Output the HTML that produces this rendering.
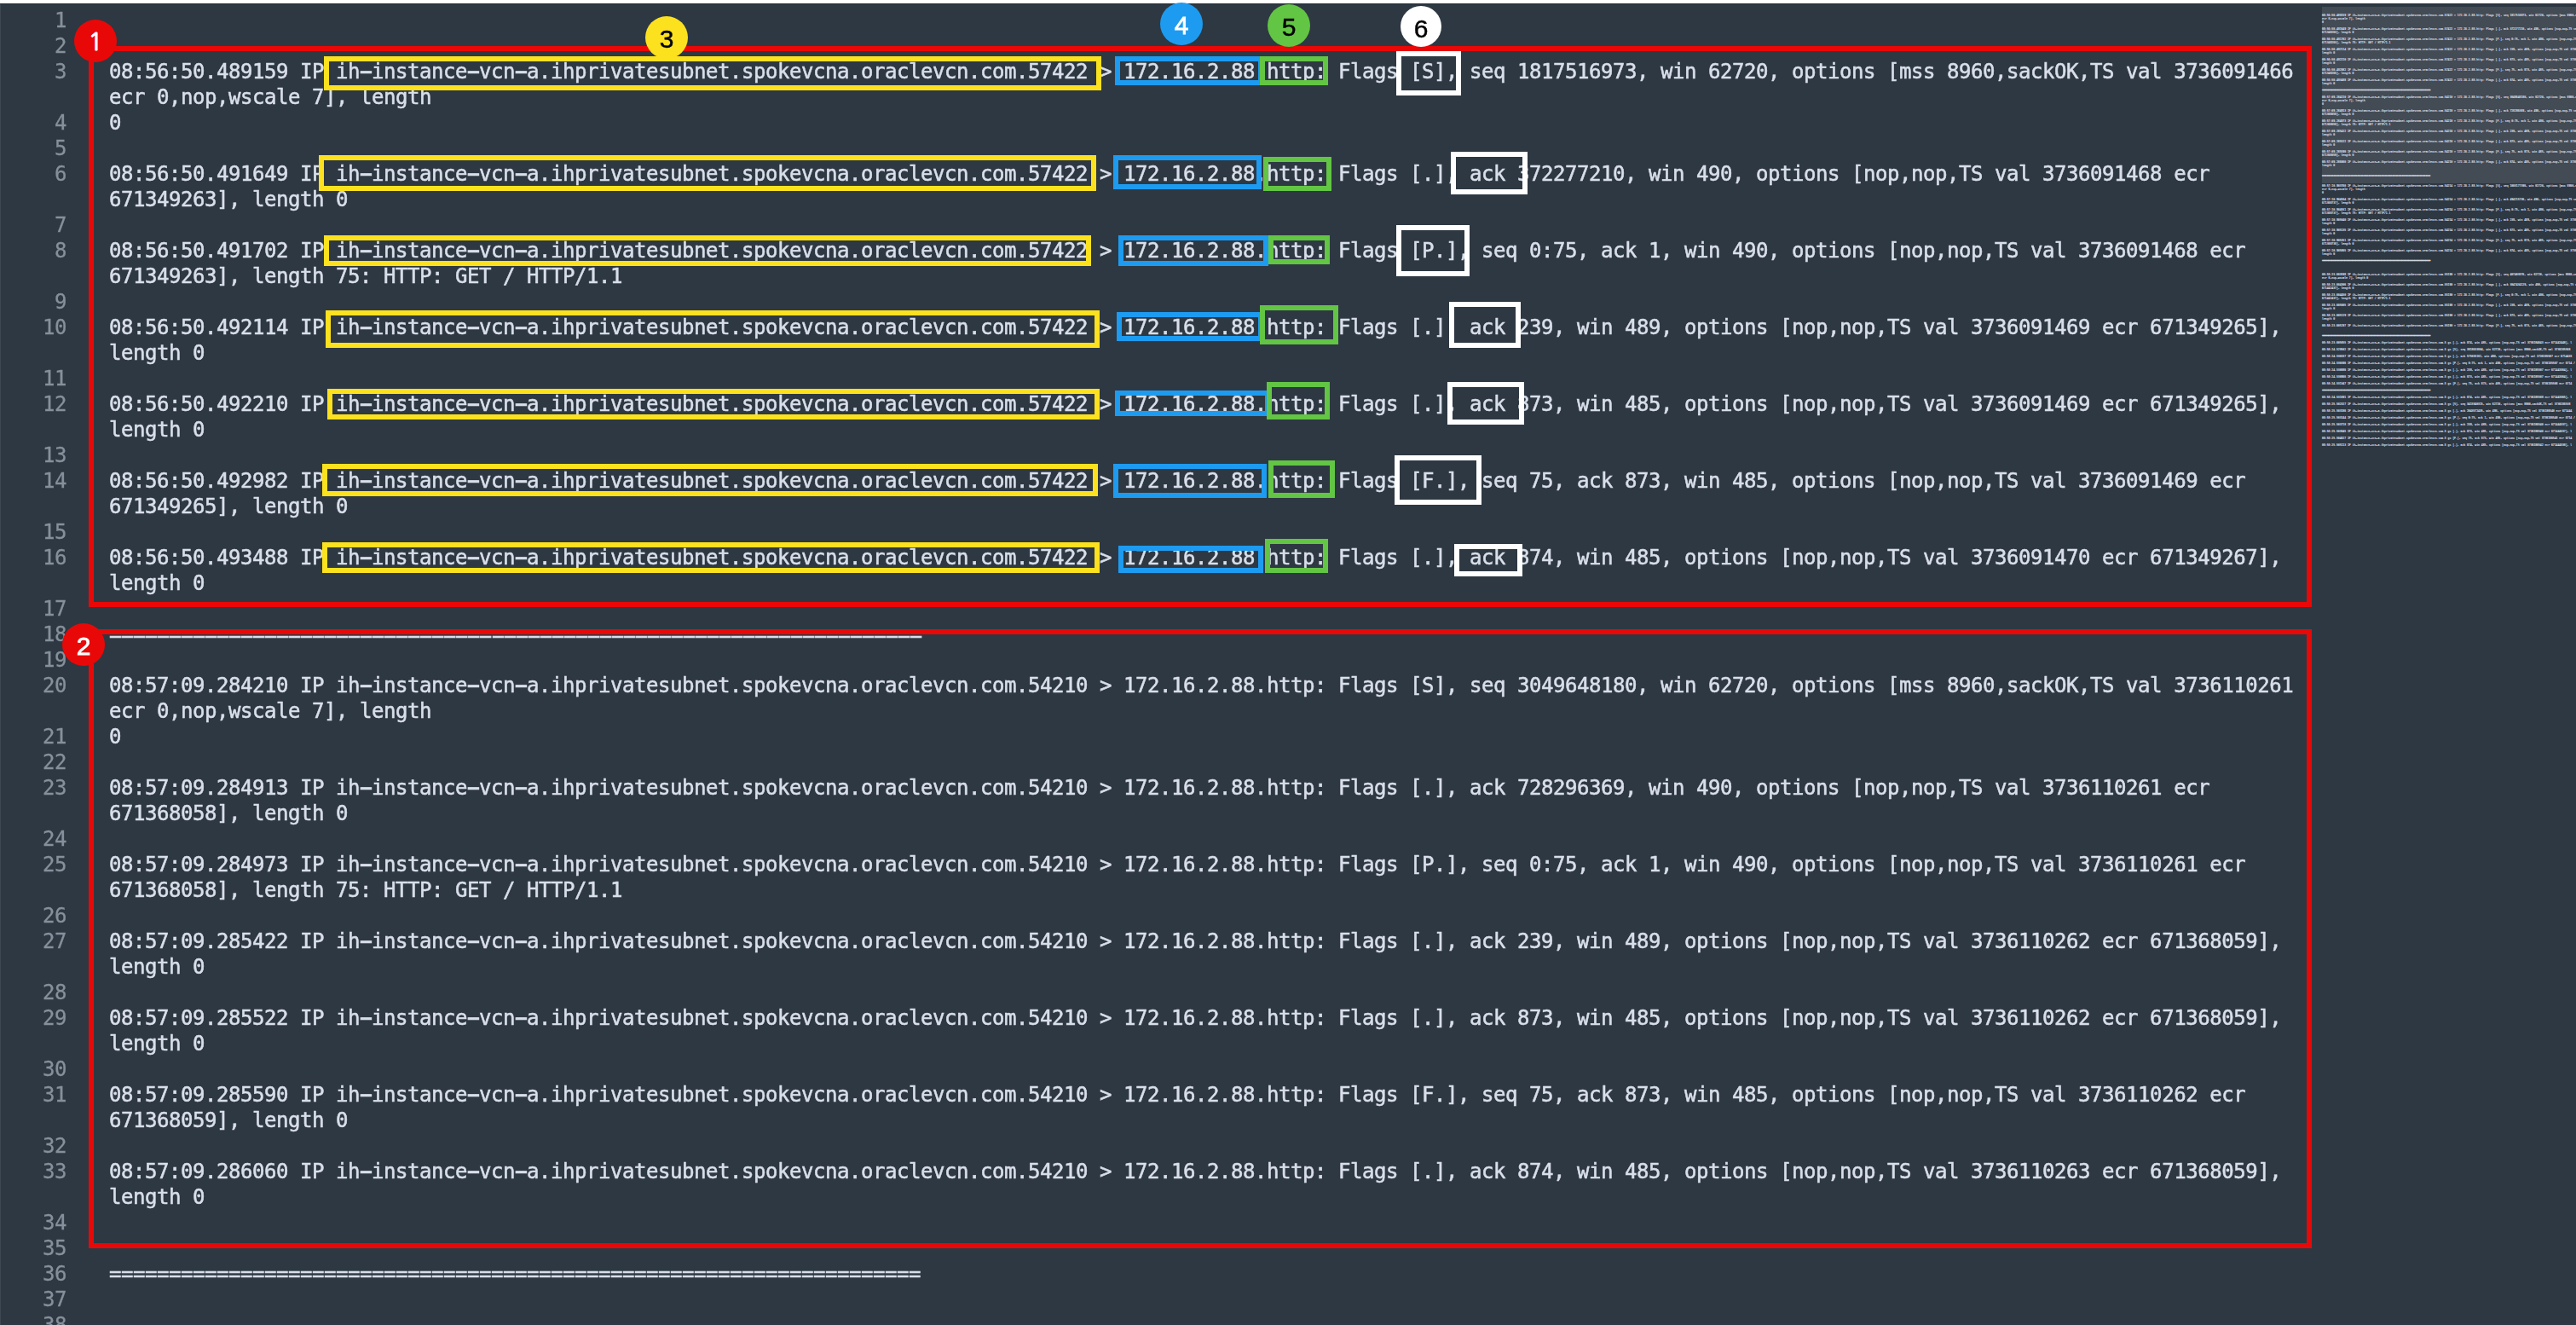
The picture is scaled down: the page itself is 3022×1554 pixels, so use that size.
<!DOCTYPE html>
<html lang="en">
<head>
<meta charset="utf-8">
<title>tcpdump capture</title>
<style>
html,body{margin:0;padding:0}
body{width:3022px;height:1554px;overflow:hidden;position:relative;background:#2e3842;
 font-family:"DejaVu Sans Mono","Liberation Mono",monospace;font-size:24px;letter-spacing:-0.449px;color:#d9dfea}
.top{position:absolute;left:0;top:0;width:3022px;height:4px;background:#fff}
.shade{position:absolute;left:0;top:4px;width:3022px;height:1px;background:#232c36}
.edge{position:absolute;left:0;top:5px;width:1px;height:1549px;background:#3e4853}
.gutter{will-change:transform;position:absolute;left:0;top:9px;width:78px;height:1546px}
.n{position:absolute;right:0;-webkit-text-stroke:0.3px #86909c;height:30px;line-height:30px;color:#86909c;white-space:pre}
.code{will-change:transform;position:absolute;left:128.25px;top:9px;width:2590px;height:1545px;overflow:hidden;-webkit-text-stroke:0.55px #d9dfea}
i{display:inline-block;font-style:normal;transform:translateY(-1.2px) scale(2.03,1.25)}
b{display:inline-block;font-weight:normal;transform:translateY(1.9px) scaleX(2.05)}
.r{position:absolute;left:0;height:30px;line-height:30px;white-space:pre}
.mini{position:absolute;left:2720px;top:8px;width:302px;height:1546px;overflow:hidden}
.view{position:absolute;left:4px;top:0;width:298px;height:207px;background:#434b55}
.mm{position:absolute;left:0;top:0;width:2600px;height:4000px;transform-origin:0 0;transform:translate(4.1px,0.2px) scale(0.13333);color:#d6dbe3;-webkit-text-stroke:1.2px #d6dbe3}
.mm b{transform:translateY(-8.5px) scale(2.3,3.2)}
.b{position:absolute;box-sizing:content-box}
.c{letter-spacing:0;position:absolute;border-radius:50%;text-align:center;font-family:"Liberation Sans",Arial,sans-serif;font-size:31px;-webkit-text-stroke:0.5px}
</style>
</head>
<body>
<div class="top"></div><div class="shade"></div><div class="edge"></div>
<div class="gutter">
<div class="n" style="top:0px">1</div>
<div class="n" style="top:30px">2</div>
<div class="n" style="top:60px">3</div>
<div class="n" style="top:120px">4</div>
<div class="n" style="top:150px">5</div>
<div class="n" style="top:180px">6</div>
<div class="n" style="top:240px">7</div>
<div class="n" style="top:270px">8</div>
<div class="n" style="top:330px">9</div>
<div class="n" style="top:360px">10</div>
<div class="n" style="top:420px">11</div>
<div class="n" style="top:450px">12</div>
<div class="n" style="top:510px">13</div>
<div class="n" style="top:540px">14</div>
<div class="n" style="top:600px">15</div>
<div class="n" style="top:630px">16</div>
<div class="n" style="top:690px">17</div>
<div class="n" style="top:720px">18</div>
<div class="n" style="top:750px">19</div>
<div class="n" style="top:780px">20</div>
<div class="n" style="top:840px">21</div>
<div class="n" style="top:870px">22</div>
<div class="n" style="top:900px">23</div>
<div class="n" style="top:960px">24</div>
<div class="n" style="top:990px">25</div>
<div class="n" style="top:1050px">26</div>
<div class="n" style="top:1080px">27</div>
<div class="n" style="top:1140px">28</div>
<div class="n" style="top:1170px">29</div>
<div class="n" style="top:1230px">30</div>
<div class="n" style="top:1260px">31</div>
<div class="n" style="top:1320px">32</div>
<div class="n" style="top:1350px">33</div>
<div class="n" style="top:1410px">34</div>
<div class="n" style="top:1440px">35</div>
<div class="n" style="top:1470px">36</div>
<div class="n" style="top:1500px">37</div>
<div class="n" style="top:1530px">38</div>
</div>
<div class="code">
<div class="r" style="top:60px">08:56:50.489159 IP ih<i>-</i>instance<i>-</i>vcn<i>-</i>a.ihprivatesubnet.spokevcna.oraclevcn.com.57422 &gt; 172.16.2.88.http: Flags [S], seq 1817516973, win 62720, options [mss 8960,sackOK,TS val 3736091466</div>
<div class="r" style="top:90px">ecr 0,nop,wscale 7], length</div>
<div class="r" style="top:120px">0</div>
<div class="r" style="top:180px">08:56:50.491649 IP ih<i>-</i>instance<i>-</i>vcn<i>-</i>a.ihprivatesubnet.spokevcna.oraclevcn.com.57422 &gt; 172.16.2.88.http: Flags [.], ack 372277210, win 490, options [nop,nop,TS val 3736091468 ecr</div>
<div class="r" style="top:210px">671349263], length 0</div>
<div class="r" style="top:270px">08:56:50.491702 IP ih<i>-</i>instance<i>-</i>vcn<i>-</i>a.ihprivatesubnet.spokevcna.oraclevcn.com.57422 &gt; 172.16.2.88.http: Flags [P.], seq 0:75, ack 1, win 490, options [nop,nop,TS val 3736091468 ecr</div>
<div class="r" style="top:300px">671349263], length 75: HTTP: GET / HTTP/1.1</div>
<div class="r" style="top:360px">08:56:50.492114 IP ih<i>-</i>instance<i>-</i>vcn<i>-</i>a.ihprivatesubnet.spokevcna.oraclevcn.com.57422 &gt; 172.16.2.88.http: Flags [.], ack 239, win 489, options [nop,nop,TS val 3736091469 ecr 671349265],</div>
<div class="r" style="top:390px">length 0</div>
<div class="r" style="top:450px">08:56:50.492210 IP ih<i>-</i>instance<i>-</i>vcn<i>-</i>a.ihprivatesubnet.spokevcna.oraclevcn.com.57422 &gt; 172.16.2.88.http: Flags [.], ack 873, win 485, options [nop,nop,TS val 3736091469 ecr 671349265],</div>
<div class="r" style="top:480px">length 0</div>
<div class="r" style="top:540px">08:56:50.492982 IP ih<i>-</i>instance<i>-</i>vcn<i>-</i>a.ihprivatesubnet.spokevcna.oraclevcn.com.57422 &gt; 172.16.2.88.http: Flags [F.], seq 75, ack 873, win 485, options [nop,nop,TS val 3736091469 ecr</div>
<div class="r" style="top:570px">671349265], length 0</div>
<div class="r" style="top:630px">08:56:50.493488 IP ih<i>-</i>instance<i>-</i>vcn<i>-</i>a.ihprivatesubnet.spokevcna.oraclevcn.com.57422 &gt; 172.16.2.88.http: Flags [.], ack 874, win 485, options [nop,nop,TS val 3736091470 ecr 671349267],</div>
<div class="r" style="top:660px">length 0</div>
<div class="r" style="top:720px"><b>-</b><b>-</b><b>-</b><b>-</b><b>-</b><b>-</b><b>-</b><b>-</b><b>-</b><b>-</b><b>-</b><b>-</b><b>-</b><b>-</b><b>-</b><b>-</b><b>-</b><b>-</b><b>-</b><b>-</b><b>-</b><b>-</b><b>-</b><b>-</b><b>-</b><b>-</b><b>-</b><b>-</b><b>-</b><b>-</b><b>-</b><b>-</b><b>-</b><b>-</b><b>-</b><b>-</b><b>-</b><b>-</b><b>-</b><b>-</b><b>-</b><b>-</b><b>-</b><b>-</b><b>-</b><b>-</b><b>-</b><b>-</b><b>-</b><b>-</b><b>-</b><b>-</b><b>-</b><b>-</b><b>-</b><b>-</b><b>-</b><b>-</b><b>-</b><b>-</b><b>-</b><b>-</b><b>-</b><b>-</b><b>-</b><b>-</b><b>-</b><b>-</b></div>
<div class="r" style="top:780px">08:57:09.284210 IP ih<i>-</i>instance<i>-</i>vcn<i>-</i>a.ihprivatesubnet.spokevcna.oraclevcn.com.54210 &gt; 172.16.2.88.http: Flags [S], seq 3049648180, win 62720, options [mss 8960,sackOK,TS val 3736110261</div>
<div class="r" style="top:810px">ecr 0,nop,wscale 7], length</div>
<div class="r" style="top:840px">0</div>
<div class="r" style="top:900px">08:57:09.284913 IP ih<i>-</i>instance<i>-</i>vcn<i>-</i>a.ihprivatesubnet.spokevcna.oraclevcn.com.54210 &gt; 172.16.2.88.http: Flags [.], ack 728296369, win 490, options [nop,nop,TS val 3736110261 ecr</div>
<div class="r" style="top:930px">671368058], length 0</div>
<div class="r" style="top:990px">08:57:09.284973 IP ih<i>-</i>instance<i>-</i>vcn<i>-</i>a.ihprivatesubnet.spokevcna.oraclevcn.com.54210 &gt; 172.16.2.88.http: Flags [P.], seq 0:75, ack 1, win 490, options [nop,nop,TS val 3736110261 ecr</div>
<div class="r" style="top:1020px">671368058], length 75: HTTP: GET / HTTP/1.1</div>
<div class="r" style="top:1080px">08:57:09.285422 IP ih<i>-</i>instance<i>-</i>vcn<i>-</i>a.ihprivatesubnet.spokevcna.oraclevcn.com.54210 &gt; 172.16.2.88.http: Flags [.], ack 239, win 489, options [nop,nop,TS val 3736110262 ecr 671368059],</div>
<div class="r" style="top:1110px">length 0</div>
<div class="r" style="top:1170px">08:57:09.285522 IP ih<i>-</i>instance<i>-</i>vcn<i>-</i>a.ihprivatesubnet.spokevcna.oraclevcn.com.54210 &gt; 172.16.2.88.http: Flags [.], ack 873, win 485, options [nop,nop,TS val 3736110262 ecr 671368059],</div>
<div class="r" style="top:1200px">length 0</div>
<div class="r" style="top:1260px">08:57:09.285590 IP ih<i>-</i>instance<i>-</i>vcn<i>-</i>a.ihprivatesubnet.spokevcna.oraclevcn.com.54210 &gt; 172.16.2.88.http: Flags [F.], seq 75, ack 873, win 485, options [nop,nop,TS val 3736110262 ecr</div>
<div class="r" style="top:1290px">671368059], length 0</div>
<div class="r" style="top:1350px">08:57:09.286060 IP ih<i>-</i>instance<i>-</i>vcn<i>-</i>a.ihprivatesubnet.spokevcna.oraclevcn.com.54210 &gt; 172.16.2.88.http: Flags [.], ack 874, win 485, options [nop,nop,TS val 3736110263 ecr 671368059],</div>
<div class="r" style="top:1380px">length 0</div>
<div class="r" style="top:1470px">====================================================================</div>
</div>
<div class="mini">
<div class="view"></div>
<div class="mm">
<div class="r" style="top:60px">08:56:50.489159 IP ih<i>-</i>instance<i>-</i>vcn<i>-</i>a.ihprivatesubnet.spokevcna.oraclevcn.com.57422 &gt; 172.16.2.88.http: Flags [S], seq 1817516973, win 62720, options [mss 8960,sackOK,TS val 3736091466</div>
<div class="r" style="top:90px">ecr 0,nop,wscale 7], length</div>
<div class="r" style="top:120px">0</div>
<div class="r" style="top:180px">08:56:50.491649 IP ih<i>-</i>instance<i>-</i>vcn<i>-</i>a.ihprivatesubnet.spokevcna.oraclevcn.com.57422 &gt; 172.16.2.88.http: Flags [.], ack 372277210, win 490, options [nop,nop,TS val 3736091468 ecr</div>
<div class="r" style="top:210px">671349263], length 0</div>
<div class="r" style="top:270px">08:56:50.491702 IP ih<i>-</i>instance<i>-</i>vcn<i>-</i>a.ihprivatesubnet.spokevcna.oraclevcn.com.57422 &gt; 172.16.2.88.http: Flags [P.], seq 0:75, ack 1, win 490, options [nop,nop,TS val 3736091468 ecr</div>
<div class="r" style="top:300px">671349263], length 75: HTTP: GET / HTTP/1.1</div>
<div class="r" style="top:360px">08:56:50.492114 IP ih<i>-</i>instance<i>-</i>vcn<i>-</i>a.ihprivatesubnet.spokevcna.oraclevcn.com.57422 &gt; 172.16.2.88.http: Flags [.], ack 239, win 489, options [nop,nop,TS val 3736091469 ecr 671349265],</div>
<div class="r" style="top:390px">length 0</div>
<div class="r" style="top:450px">08:56:50.492210 IP ih<i>-</i>instance<i>-</i>vcn<i>-</i>a.ihprivatesubnet.spokevcna.oraclevcn.com.57422 &gt; 172.16.2.88.http: Flags [.], ack 873, win 485, options [nop,nop,TS val 3736091469 ecr 671349265],</div>
<div class="r" style="top:480px">length 0</div>
<div class="r" style="top:540px">08:56:50.492982 IP ih<i>-</i>instance<i>-</i>vcn<i>-</i>a.ihprivatesubnet.spokevcna.oraclevcn.com.57422 &gt; 172.16.2.88.http: Flags [F.], seq 75, ack 873, win 485, options [nop,nop,TS val 3736091469 ecr</div>
<div class="r" style="top:570px">671349265], length 0</div>
<div class="r" style="top:630px">08:56:50.493488 IP ih<i>-</i>instance<i>-</i>vcn<i>-</i>a.ihprivatesubnet.spokevcna.oraclevcn.com.57422 &gt; 172.16.2.88.http: Flags [.], ack 874, win 485, options [nop,nop,TS val 3736091470 ecr 671349267],</div>
<div class="r" style="top:660px">length 0</div>
<div class="r" style="top:720px"><b>-</b><b>-</b><b>-</b><b>-</b><b>-</b><b>-</b><b>-</b><b>-</b><b>-</b><b>-</b><b>-</b><b>-</b><b>-</b><b>-</b><b>-</b><b>-</b><b>-</b><b>-</b><b>-</b><b>-</b><b>-</b><b>-</b><b>-</b><b>-</b><b>-</b><b>-</b><b>-</b><b>-</b><b>-</b><b>-</b><b>-</b><b>-</b><b>-</b><b>-</b><b>-</b><b>-</b><b>-</b><b>-</b><b>-</b><b>-</b><b>-</b><b>-</b><b>-</b><b>-</b><b>-</b><b>-</b><b>-</b><b>-</b><b>-</b><b>-</b><b>-</b><b>-</b><b>-</b><b>-</b><b>-</b><b>-</b><b>-</b><b>-</b><b>-</b><b>-</b><b>-</b><b>-</b><b>-</b><b>-</b><b>-</b><b>-</b><b>-</b><b>-</b></div>
<div class="r" style="top:780px">08:57:09.284210 IP ih<i>-</i>instance<i>-</i>vcn<i>-</i>a.ihprivatesubnet.spokevcna.oraclevcn.com.54210 &gt; 172.16.2.88.http: Flags [S], seq 3049648180, win 62720, options [mss 8960,sackOK,TS val 3736110261</div>
<div class="r" style="top:810px">ecr 0,nop,wscale 7], length</div>
<div class="r" style="top:840px">0</div>
<div class="r" style="top:900px">08:57:09.284913 IP ih<i>-</i>instance<i>-</i>vcn<i>-</i>a.ihprivatesubnet.spokevcna.oraclevcn.com.54210 &gt; 172.16.2.88.http: Flags [.], ack 728296369, win 490, options [nop,nop,TS val 3736110261 ecr</div>
<div class="r" style="top:930px">671368058], length 0</div>
<div class="r" style="top:990px">08:57:09.284973 IP ih<i>-</i>instance<i>-</i>vcn<i>-</i>a.ihprivatesubnet.spokevcna.oraclevcn.com.54210 &gt; 172.16.2.88.http: Flags [P.], seq 0:75, ack 1, win 490, options [nop,nop,TS val 3736110261 ecr</div>
<div class="r" style="top:1020px">671368058], length 75: HTTP: GET / HTTP/1.1</div>
<div class="r" style="top:1080px">08:57:09.285422 IP ih<i>-</i>instance<i>-</i>vcn<i>-</i>a.ihprivatesubnet.spokevcna.oraclevcn.com.54210 &gt; 172.16.2.88.http: Flags [.], ack 239, win 489, options [nop,nop,TS val 3736110262 ecr 671368059],</div>
<div class="r" style="top:1110px">length 0</div>
<div class="r" style="top:1170px">08:57:09.285522 IP ih<i>-</i>instance<i>-</i>vcn<i>-</i>a.ihprivatesubnet.spokevcna.oraclevcn.com.54210 &gt; 172.16.2.88.http: Flags [.], ack 873, win 485, options [nop,nop,TS val 3736110262 ecr 671368059],</div>
<div class="r" style="top:1200px">length 0</div>
<div class="r" style="top:1260px">08:57:09.285590 IP ih<i>-</i>instance<i>-</i>vcn<i>-</i>a.ihprivatesubnet.spokevcna.oraclevcn.com.54210 &gt; 172.16.2.88.http: Flags [F.], seq 75, ack 873, win 485, options [nop,nop,TS val 3736110262 ecr</div>
<div class="r" style="top:1290px">671368059], length 0</div>
<div class="r" style="top:1350px">08:57:09.286060 IP ih<i>-</i>instance<i>-</i>vcn<i>-</i>a.ihprivatesubnet.spokevcna.oraclevcn.com.54210 &gt; 172.16.2.88.http: Flags [.], ack 874, win 485, options [nop,nop,TS val 3736110263 ecr 671368059],</div>
<div class="r" style="top:1380px">length 0</div>
<div class="r" style="top:1470px">====================================================================</div>
<div class="r" style="top:1560px">08:57:10.903760 IP ih<i>-</i>instance<i>-</i>vcn<i>-</i>a.ihprivatesubnet.spokevcna.oraclevcn.com.54214 &gt; 172.16.2.88.http: Flags [S], seq 1003177396, win 62720, options [mss 8960,sackOK,TS val 3736111880</div>
<div class="r" style="top:1590px">ecr 0,nop,wscale 7], length</div>
<div class="r" style="top:1620px">0</div>
<div class="r" style="top:1680px">08:57:10.904504 IP ih<i>-</i>instance<i>-</i>vcn<i>-</i>a.ihprivatesubnet.spokevcna.oraclevcn.com.54214 &gt; 172.16.2.88.http: Flags [.], ack 494215736, win 490, options [nop,nop,TS val 3736111881 ecr</div>
<div class="r" style="top:1710px">671369737], length 0</div>
<div class="r" style="top:1770px">08:57:10.904551 IP ih<i>-</i>instance<i>-</i>vcn<i>-</i>a.ihprivatesubnet.spokevcna.oraclevcn.com.54214 &gt; 172.16.2.88.http: Flags [P.], seq 0:75, ack 1, win 490, options [nop,nop,TS val 3736111881 ecr</div>
<div class="r" style="top:1800px">671369737], length 75: HTTP: GET / HTTP/1.1</div>
<div class="r" style="top:1860px">08:57:10.905040 IP ih<i>-</i>instance<i>-</i>vcn<i>-</i>a.ihprivatesubnet.spokevcna.oraclevcn.com.54214 &gt; 172.16.2.88.http: Flags [.], ack 239, win 489, options [nop,nop,TS val 3736111881 ecr 671369738],</div>
<div class="r" style="top:1890px">length 0</div>
<div class="r" style="top:1950px">08:57:10.905135 IP ih<i>-</i>instance<i>-</i>vcn<i>-</i>a.ihprivatesubnet.spokevcna.oraclevcn.com.54214 &gt; 172.16.2.88.http: Flags [.], ack 873, win 485, options [nop,nop,TS val 3736111881 ecr 671369738],</div>
<div class="r" style="top:1980px">length 0</div>
<div class="r" style="top:2040px">08:57:10.905351 IP ih<i>-</i>instance<i>-</i>vcn<i>-</i>a.ihprivatesubnet.spokevcna.oraclevcn.com.54214 &gt; 172.16.2.88.http: Flags [F.], seq 75, ack 873, win 485, options [nop,nop,TS val 3736111882 ecr</div>
<div class="r" style="top:2070px">671369738], length 0</div>
<div class="r" style="top:2130px">08:57:10.905865 IP ih<i>-</i>instance<i>-</i>vcn<i>-</i>a.ihprivatesubnet.spokevcna.oraclevcn.com.54214 &gt; 172.16.2.88.http: Flags [.], ack 874, win 485, options [nop,nop,TS val 3736111882 ecr 671369739],</div>
<div class="r" style="top:2160px">length 0</div>
<div class="r" style="top:2220px"><b>-</b><b>-</b><b>-</b><b>-</b><b>-</b><b>-</b><b>-</b><b>-</b><b>-</b><b>-</b><b>-</b><b>-</b><b>-</b><b>-</b><b>-</b><b>-</b><b>-</b><b>-</b><b>-</b><b>-</b><b>-</b><b>-</b><b>-</b><b>-</b><b>-</b><b>-</b><b>-</b><b>-</b><b>-</b><b>-</b><b>-</b><b>-</b><b>-</b><b>-</b><b>-</b><b>-</b><b>-</b><b>-</b><b>-</b><b>-</b><b>-</b><b>-</b><b>-</b><b>-</b><b>-</b><b>-</b><b>-</b><b>-</b><b>-</b><b>-</b><b>-</b><b>-</b><b>-</b><b>-</b><b>-</b><b>-</b><b>-</b><b>-</b><b>-</b><b>-</b><b>-</b><b>-</b><b>-</b><b>-</b><b>-</b><b>-</b><b>-</b><b>-</b></div>
<div class="r" style="top:2340px">08:58:23.603598 IP ih<i>-</i>instance<i>-</i>vcn<i>-</i>a.ihprivatesubnet.spokevcna.oraclevcn.com.55190 &gt; 172.16.2.88.http: Flags [S], seq 407403876, win 62720, options [mss 8960,sackOK,TS val 3736184580</div>
<div class="r" style="top:2370px">ecr 0,nop,wscale 7], length 0</div>
<div class="r" style="top:2430px">08:58:23.604306 IP ih<i>-</i>instance<i>-</i>vcn<i>-</i>a.ihprivatesubnet.spokevcna.oraclevcn.com.55190 &gt; 172.16.2.88.http: Flags [.], ack 3047434129, win 490, options [nop,nop,TS val 3736184580 ecr</div>
<div class="r" style="top:2460px">671442437], length 0</div>
<div class="r" style="top:2520px">08:58:23.604450 IP ih<i>-</i>instance<i>-</i>vcn<i>-</i>a.ihprivatesubnet.spokevcna.oraclevcn.com.55190 &gt; 172.16.2.88.http: Flags [P.], seq 0:75, ack 1, win 490, options [nop,nop,TS val 3736184581 ecr</div>
<div class="r" style="top:2550px">671442437], length 75: HTTP: GET / HTTP/1.1</div>
<div class="r" style="top:2610px">08:58:23.605005 IP ih<i>-</i>instance<i>-</i>vcn<i>-</i>a.ihprivatesubnet.spokevcna.oraclevcn.com.55190 &gt; 172.16.2.88.http: Flags [.], ack 239, win 489, options [nop,nop,TS val 3736184581 ecr 671442438],</div>
<div class="r" style="top:2640px">length 0</div>
<div class="r" style="top:2700px">08:58:23.605129 IP ih<i>-</i>instance<i>-</i>vcn<i>-</i>a.ihprivatesubnet.spokevcna.oraclevcn.com.55190 &gt; 172.16.2.88.http: Flags [.], ack 873, win 485, options [nop,nop,TS val 3736184581 ecr 671442438],</div>
<div class="r" style="top:2730px">length 0</div>
<div class="r" style="top:2790px">08:58:23.605297 IP ih<i>-</i>instance<i>-</i>vcn<i>-</i>a.ihprivatesubnet.spokevcna.oraclevcn.com.55190 &gt; 172.16.2.88.http: Flags [F.], seq 75, ack 873, win 485, options [nop,nop,TS val 3736184581</div>
<div class="r" style="top:2880px"><b>-</b><b>-</b><b>-</b><b>-</b><b>-</b><b>-</b><b>-</b><b>-</b><b>-</b><b>-</b><b>-</b><b>-</b><b>-</b><b>-</b><b>-</b><b>-</b><b>-</b><b>-</b><b>-</b><b>-</b><b>-</b><b>-</b><b>-</b><b>-</b><b>-</b><b>-</b><b>-</b><b>-</b><b>-</b><b>-</b><b>-</b><b>-</b><b>-</b><b>-</b><b>-</b><b>-</b><b>-</b><b>-</b><b>-</b><b>-</b><b>-</b><b>-</b><b>-</b><b>-</b><b>-</b><b>-</b><b>-</b><b>-</b><b>-</b><b>-</b><b>-</b><b>-</b><b>-</b><b>-</b><b>-</b><b>-</b><b>-</b><b>-</b><b>-</b><b>-</b><b>-</b><b>-</b><b>-</b><b>-</b><b>-</b><b>-</b><b>-</b><b>-</b></div>
<div class="r" style="top:2940px">08:58:23.605855 IP ih<i>-</i>instance<i>-</i>vcn<i>-</i>a.ihprivatesubnet.spokevcna.oraclevcn.com.5 gs [.], ack 874, win 485, options [nop,nop,TS val 3736184643 ecr 671442448], l</div>
<div class="r" style="top:3000px">08:58:24.529502 IP ih<i>-</i>instance<i>-</i>vcn<i>-</i>a.ihprivatesubnet.spokevcna.oraclevcn.com.5 gs [S], seq 3918633804, win 62720, options [mss 8960,sackOK,TS val 3736185568</div>
<div class="r" style="top:3060px">08:58:24.530337 IP ih<i>-</i>instance<i>-</i>vcn<i>-</i>a.ihprivatesubnet.spokevcna.oraclevcn.com.5 gs [.], ack 575035182, win 490, options [nop,nop,TS val 3736185507 ecr 6714433</div>
<div class="r" style="top:3120px">08:58:24.530396 IP ih<i>-</i>instance<i>-</i>vcn<i>-</i>a.ihprivatesubnet.spokevcna.oraclevcn.com.5 gs [P.], seq 0:75, ack 1, win 490, options [nop,nop,TS val 3736185507 ecr 6714 /</div>
<div class="r" style="top:3180px">08:58:24.530886 IP ih<i>-</i>instance<i>-</i>vcn<i>-</i>a.ihprivatesubnet.spokevcna.oraclevcn.com.5 gs [.], ack 239, win 489, options [nop,nop,TS val 3736185507 ecr 671443364], l</div>
<div class="r" style="top:3240px">08:58:24.530966 IP ih<i>-</i>instance<i>-</i>vcn<i>-</i>a.ihprivatesubnet.spokevcna.oraclevcn.com.5 gs [.], ack 873, win 485, options [nop,nop,TS val 3736185507 ecr 671443364], l</div>
<div class="r" style="top:3300px">08:58:24.531347 IP ih<i>-</i>instance<i>-</i>vcn<i>-</i>a.ihprivatesubnet.spokevcna.oraclevcn.com.5 gs [F.], seq 75, ack 873, win 485, options [nop,nop,TS val 3736185508 ecr 6714</div>
<div class="r" style="top:3360px"><b>-</b><b>-</b><b>-</b><b>-</b><b>-</b><b>-</b><b>-</b><b>-</b><b>-</b><b>-</b><b>-</b><b>-</b><b>-</b><b>-</b><b>-</b><b>-</b><b>-</b><b>-</b><b>-</b><b>-</b><b>-</b><b>-</b><b>-</b><b>-</b><b>-</b><b>-</b><b>-</b><b>-</b><b>-</b><b>-</b><b>-</b><b>-</b><b>-</b><b>-</b><b>-</b><b>-</b><b>-</b><b>-</b><b>-</b><b>-</b><b>-</b><b>-</b><b>-</b><b>-</b><b>-</b><b>-</b><b>-</b><b>-</b><b>-</b><b>-</b><b>-</b><b>-</b><b>-</b><b>-</b><b>-</b><b>-</b><b>-</b><b>-</b><b>-</b><b>-</b><b>-</b><b>-</b><b>-</b><b>-</b><b>-</b><b>-</b><b>-</b><b>-</b></div>
<div class="r" style="top:3420px">08:58:24.531891 IP ih<i>-</i>instance<i>-</i>vcn<i>-</i>a.ihprivatesubnet.spokevcna.oraclevcn.com.5 gs [.], ack 874, win 485, options [nop,nop,TS val 3736185509 ecr 671443365], l</div>
<div class="r" style="top:3480px">08:58:25.502327 IP ih<i>-</i>instance<i>-</i>vcn<i>-</i>a.ihprivatesubnet.spokevcna.oraclevcn.com.5 gs [S], seq 3415940315, win 62720, options [mss 8960,sackOK,TS val 3736186538</div>
<div class="r" style="top:3540px">08:58:25.503186 IP ih<i>-</i>instance<i>-</i>vcn<i>-</i>a.ihprivatesubnet.spokevcna.oraclevcn.com.5 gs [.], ack 2043572435, win 490, options [nop,nop,TS val 3736186540 ecr 671444</div>
<div class="r" style="top:3600px">08:58:25.503244 IP ih<i>-</i>instance<i>-</i>vcn<i>-</i>a.ihprivatesubnet.spokevcna.oraclevcn.com.5 gs [P.], seq 0:75, ack 1, win 490, options [nop,nop,TS val 3736186540 ecr 6714 /</div>
<div class="r" style="top:3660px">08:58:25.503718 IP ih<i>-</i>instance<i>-</i>vcn<i>-</i>a.ihprivatesubnet.spokevcna.oraclevcn.com.5 gs [.], ack 239, win 489, options [nop,nop,TS val 3736186540 ecr 671444337], l</div>
<div class="r" style="top:3720px">08:58:25.503845 IP ih<i>-</i>instance<i>-</i>vcn<i>-</i>a.ihprivatesubnet.spokevcna.oraclevcn.com.5 gs [.], ack 873, win 485, options [nop,nop,TS val 3736186540 ecr 671444337], l</div>
<div class="r" style="top:3780px">08:58:25.504627 IP ih<i>-</i>instance<i>-</i>vcn<i>-</i>a.ihprivatesubnet.spokevcna.oraclevcn.com.5 gs [F.], seq 75, ack 873, win 485, options [nop,nop,TS val 3736186541 ecr 6714</div>
<div class="r" style="top:3840px">08:58:25.505113 IP ih<i>-</i>instance<i>-</i>vcn<i>-</i>a.ihprivatesubnet.spokevcna.oraclevcn.com.5 gs [.], ack 874, win 485, options [nop,nop,TS val 3736186542 ecr 671444338], l</div>
</div>
</div>
<div class="b" style="left:104px;top:54px;width:2596px;height:646px;border:6px solid #e90808"></div>
<div class="b" style="left:104px;top:738px;width:2596px;height:714px;border:6px solid #e90808"></div>
<div class="b" style="left:380px;top:66px;width:900px;height:28px;border:6px solid #fce11e"></div>
<div class="b" style="left:1308px;top:66px;width:162px;height:22px;border:6px solid #1d9bf0"></div>
<div class="b" style="left:1478px;top:66px;width:68px;height:22px;border:6px solid #62c544"></div>
<div class="b" style="left:1638px;top:60px;width:64px;height:40px;border:6px solid #ffffff"></div>
<div class="b" style="left:374px;top:182px;width:900px;height:30px;border:6px solid #fce11e"></div>
<div class="b" style="left:1306px;top:182px;width:162px;height:28px;border:6px solid #1d9bf0"></div>
<div class="b" style="left:1482px;top:184px;width:68px;height:28px;border:6px solid #62c544"></div>
<div class="b" style="left:1702px;top:178px;width:78px;height:38px;border:6px solid #ffffff"></div>
<div class="b" style="left:380px;top:276px;width:888px;height:24px;border:6px solid #fce11e"></div>
<div class="b" style="left:1312px;top:276px;width:164px;height:24px;border:6px solid #1d9bf0"></div>
<div class="b" style="left:1488px;top:276px;width:60px;height:22px;border:6px solid #62c544"></div>
<div class="b" style="left:1638px;top:264px;width:74px;height:48px;border:6px solid #ffffff"></div>
<div class="b" style="left:382px;top:364px;width:896px;height:32px;border:6px solid #fce11e"></div>
<div class="b" style="left:1310px;top:366px;width:160px;height:22px;border:6px solid #1d9bf0"></div>
<div class="b" style="left:1478px;top:358px;width:80px;height:34px;border:6px solid #62c544"></div>
<div class="b" style="left:1700px;top:354px;width:72px;height:42px;border:6px solid #ffffff"></div>
<div class="b" style="left:384px;top:456px;width:894px;height:24px;border:6px solid #fce11e"></div>
<div class="b" style="left:1308px;top:458px;width:170px;height:18px;border:6px solid #1d9bf0"></div>
<div class="b" style="left:1486px;top:448px;width:62px;height:32px;border:6px solid #62c544"></div>
<div class="b" style="left:1698px;top:448px;width:78px;height:38px;border:6px solid #ffffff"></div>
<div class="b" style="left:378px;top:544px;width:898px;height:26px;border:6px solid #fce11e"></div>
<div class="b" style="left:1306px;top:544px;width:168px;height:28px;border:6px solid #1d9bf0"></div>
<div class="b" style="left:1488px;top:540px;width:66px;height:32px;border:6px solid #62c544"></div>
<div class="b" style="left:1636px;top:534px;width:90px;height:46px;border:6px solid #ffffff"></div>
<div class="b" style="left:378px;top:636px;width:900px;height:24px;border:6px solid #fce11e"></div>
<div class="b" style="left:1312px;top:640px;width:158px;height:20px;border:6px solid #1d9bf0"></div>
<div class="b" style="left:1484px;top:632px;width:62px;height:28px;border:6px solid #62c544"></div>
<div class="b" style="left:1706px;top:638px;width:68px;height:26px;border:6px solid #ffffff"></div>
<div class="c" style="font-family:NanumGothic,&quot;Liberation Sans&quot;,sans-serif;font-size:29px;-webkit-text-stroke:1px;left:87.0px;top:23.0px;width:50px;height:50px;line-height:52.2px;background:#e90808;color:#fff">1</div>
<div class="c" style="font-size:30px;-webkit-text-stroke:0.8px;left:73.0px;top:731.0px;width:50px;height:50px;line-height:53.0px;background:#e90808;color:#fff">2</div>
<div class="c" style="font-size:30px;-webkit-text-stroke:0.45px;left:757.0px;top:18.700000000000003px;width:50px;height:50px;line-height:54.5px;background:#fce11e;color:#000">3</div>
<div class="c" style="font-size:30px;-webkit-text-stroke:0.8px;left:1361.0px;top:3.0px;width:50px;height:50px;line-height:53.0px;background:#1d9bf0;color:#fff">4</div>
<div class="c" style="font-size:30px;-webkit-text-stroke:0.45px;left:1487.0px;top:5.0px;width:50px;height:50px;line-height:54.5px;background:#62c544;color:#000">5</div>
<div class="c" style="font-size:30px;-webkit-text-stroke:0.45px;left:1642.75px;top:6.75px;width:48.5px;height:48.5px;line-height:53.0px;background:#ffffff;color:#000">6</div>
</body>
</html>
